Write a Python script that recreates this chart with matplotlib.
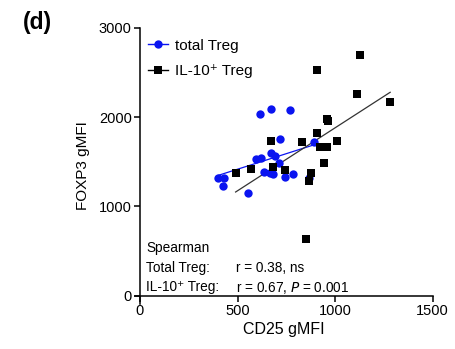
import numpy as np
import matplotlib
matplotlib.use("Agg")
import matplotlib.pyplot as plt

plt.rcParams['font.family'] = ['Liberation Sans', 'DejaVu Sans']

total_x = [617, 670, 769, 715, 894, 672, 692, 596, 622, 712,
           635, 665, 682, 744, 784, 868, 402, 431, 423, 556]
total_y = [2035, 2091, 2076, 1751, 1725, 1595, 1568, 1525, 1545, 1483,
           1383, 1371, 1359, 1324, 1357, 1318, 1312, 1320, 1228, 1144]

il10_x = [1127, 906, 1110, 1282, 960, 966, 906, 669, 831, 1008,
          925, 959, 945, 684, 571, 745, 490, 877, 868, 849]
il10_y = [2695, 2530, 2255, 2163, 1975, 1951, 1819, 1736, 1723, 1732,
          1660, 1660, 1483, 1445, 1419, 1408, 1371, 1376, 1282, 632]

x_ticks = [0, 500, 1000, 1500]
y_ticks = [0, 1000, 2000, 3000]

fig = plt.figure(figsize=(4.56, 3.49), dpi=100)
ax = fig.add_axes([0.2963, 0.1298, 0.6526, 0.7908])

blue = '#0a14f0'

def fit_line(x, y):
    x = np.asarray(x, float); y = np.asarray(y, float)
    m, b = np.polyfit(x, y, 1)
    xs = np.array([x.min(), x.max()])
    return xs, m * xs + b

bx, by = fit_line(total_x, total_y)
kx, ky = fit_line(il10_x, il10_y)
ax.plot(bx, by, color=blue, lw=0.9, zorder=2)
ax.plot(kx, ky, color='#333333', lw=0.9, zorder=2)

ax.plot(total_x, total_y, 'o', color=blue, ms=6, mew=0, zorder=3)
ax.plot(il10_x, il10_y, 's', color='black', ms=5.2, mew=0, zorder=3)

# legend handles
ax.plot([], [], '-o', color=blue, ms=6, mew=0, lw=1, label='total Treg')
ax.plot([], [], '-s', color='black', ms=5.2, mew=0, lw=1, label='IL-10\u207a Treg')
h, l = ax.get_legend_handles_labels()
ax.legend(h[-2:], l[-2:], loc='upper left', bbox_to_anchor=(0.012, 0.993), frameon=False,
          fontsize=11, handlelength=1.35, handletextpad=0.45, labelspacing=0.75,
          borderaxespad=0.2)

ax.set_xlim(-25, 1500)
ax.set_ylim(-90, 3000)
ax.spines['left'].set_position(('data', 0))
ax.spines['bottom'].set_position(('data', 0))
for s in ['top', 'right']:
    ax.spines[s].set_visible(False)
for s in ['left', 'bottom']:
    ax.spines[s].set_linewidth(1.1)
ax.set_xticks(x_ticks)
ax.set_yticks(y_ticks)
ax.tick_params(direction='out', length=4, width=1.1, labelsize=10.5, pad=2)

ax.set_xlabel('CD25 gMFI', fontsize=11.5, labelpad=3)
ax.set_ylabel('FOXP3 gMFI', fontsize=11, labelpad=6)

fs = 9.8
fig.text(146/456, 1 - 248/349, 'Spearman', fontsize=fs, va='center')
fig.text(146/456, 1 - 268/349, 'Total Treg:', fontsize=fs, va='center')
fig.text(236/456, 1 - 268/349, 'r = 0.38, ns', fontsize=fs, va='center')
fig.text(146/456, 1 - 287.5/349, 'IL-10\u207a Treg:', fontsize=fs, va='center')
fig.text(236/456, 1 - 287.5/349, 'r = 0.67, $\\it{P}$ = 0.001', fontsize=fs, va='center')

fig.text(23/456, 1 - 23/349, '(d)', fontsize=16.5, fontweight='bold', va='center')

fig.savefig('out.png', dpi=100)
